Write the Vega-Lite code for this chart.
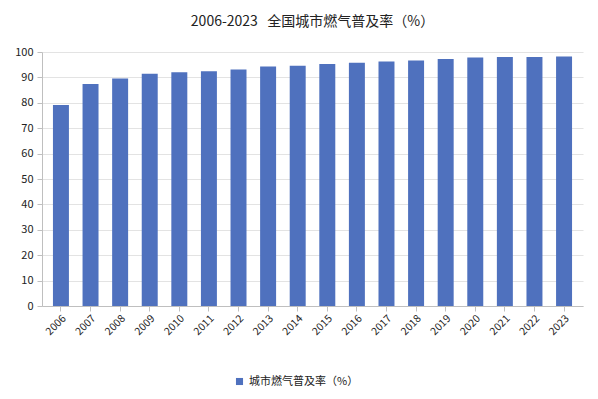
{
  "$schema": "https://vega.github.io/schema/vega-lite/v6.json",
  "width": 541,
  "height": 254,
  "autosize": {"type": "none"},
  "padding": {"left": 42, "top": 52, "right": 15, "bottom": 93},
  "background": "white",
  "title": {
    "text": "2006-2023\u00a0\u00a0\u00a0全国城市燃气普及率（%）",
    "font": "Noto Sans CJK SC",
    "fontSize": 14,
    "fontWeight": "normal",
    "color": "#222222",
    "anchor": "middle",
    "offset": 17
  },
  "data": {
    "values": [
      {"year": "2006", "value": 79.11, "s": "城市燃气普及率（%）"},
      {"year": "2007", "value": 87.40, "s": "城市燃气普及率（%）"},
      {"year": "2008", "value": 89.55, "s": "城市燃气普及率（%）"},
      {"year": "2009", "value": 91.41, "s": "城市燃气普及率（%）"},
      {"year": "2010", "value": 92.04, "s": "城市燃气普及率（%）"},
      {"year": "2011", "value": 92.41, "s": "城市燃气普及率（%）"},
      {"year": "2012", "value": 93.15, "s": "城市燃气普及率（%）"},
      {"year": "2013", "value": 94.25, "s": "城市燃气普及率（%）"},
      {"year": "2014", "value": 94.57, "s": "城市燃气普及率（%）"},
      {"year": "2015", "value": 95.30, "s": "城市燃气普及率（%）"},
      {"year": "2016", "value": 95.75, "s": "城市燃气普及率（%）"},
      {"year": "2017", "value": 96.26, "s": "城市燃气普及率（%）"},
      {"year": "2018", "value": 96.70, "s": "城市燃气普及率（%）"},
      {"year": "2019", "value": 97.29, "s": "城市燃气普及率（%）"},
      {"year": "2020", "value": 97.87, "s": "城市燃气普及率（%）"},
      {"year": "2021", "value": 98.04, "s": "城市燃气普及率（%）"},
      {"year": "2022", "value": 98.06, "s": "城市燃气普及率（%）"},
      {"year": "2023", "value": 98.25, "s": "城市燃气普及率（%）"}
    ]
  },
  "mark": {"type": "bar"},
  "encoding": {
    "x": {
      "field": "year",
      "type": "ordinal",
      "title": null,
      "scale": {"paddingInner": 0.46, "paddingOuter": 0.37},
      "axis": {
        "labelAngle": -45,
        "labelFont": "Noto Sans CJK SC",
        "labelFontSize": 10.5,
        "labelColor": "#222222",
        "domainColor": "#bfbfbf",
        "tickColor": "#bfbfbf",
        "tickSize": 5,
        "labelPadding": 2
      }
    },
    "y": {
      "field": "value",
      "type": "quantitative",
      "title": null,
      "scale": {"domain": [0, 100], "nice": false},
      "axis": {
        "values": [0, 10, 20, 30, 40, 50, 60, 70, 80, 90, 100],
        "labelFont": "Noto Sans CJK SC",
        "labelFontSize": 11,
        "labelColor": "#222222",
        "domainColor": "#bfbfbf",
        "tickColor": "#bfbfbf",
        "tickSize": 5,
        "labelPadding": 4,
        "gridColor": "#e3e3e3",
        "gridWidth": 1
      }
    },
    "color": {
      "field": "s",
      "type": "nominal",
      "scale": {"range": ["#4f71be"]},
      "legend": {
        "title": null,
        "orient": "none",
        "legendX": 192,
        "legendY": 324,
        "direction": "horizontal",
        "symbolType": "square",
        "symbolSize": 50,
        "labelFont": "Noto Sans CJK SC",
        "labelFontSize": 11,
        "labelColor": "#222222"
      }
    }
  },
  "config": {"view": {"stroke": null}}
}
